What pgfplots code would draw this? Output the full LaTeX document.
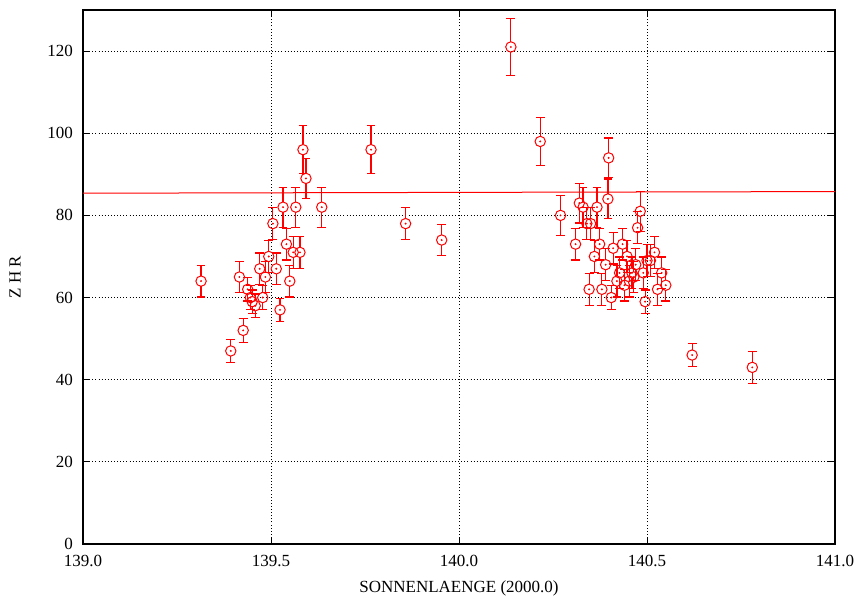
\documentclass[border=0pt]{standalone}
\usepackage{pgfplots}
\pgfplotsset{compat=1.18}
\usepackage{pgfplotstable}
\usetikzlibrary{arrows.meta}
\usepackage{fontspec}
\setmainfont{Liberation Serif}

% sonnenlaenge, ZHR, fehler
\pgfplotstableread{
x y e
139.314 64 4
139.393 47 3
139.416 65 4
139.426 52 3
139.438 62 3
139.445 60 3
139.450 59 3
139.458 58 3
139.470 67 4
139.478 60 3
139.485 65 4
139.494 70 4
139.505 78 4
139.514 67 4
139.524 57 3
139.532 82 5
139.541 73 4
139.550 64 4
139.559 71 4
139.566 82 5
139.577 71 4
139.585 96 6
139.593 89 5
139.635 82 5
139.766 96 6
139.858 78 4
139.954 74 4
140.138 121 7
140.216 98 6
140.270 80 5
140.310 73 4
140.320 83 5
140.330 82 5
140.340 78 4
140.346 62 4
140.350 78 4
140.360 70 4
140.367 82 5
140.374 73 4
140.380 62 4
140.390 68 4
140.396 84 5
140.398 94 5
140.405 60 3
140.410 72 4
140.420 64 4
140.427 66 4
140.435 73 4
140.440 63 4
140.447 70 4
140.453 64 4
140.460 66 4
140.465 65 4
140.470 68 4
140.475 77 4
140.482 81 5
140.490 66 4
140.495 59 3
140.500 69 4
140.509 69 4
140.520 71 4
140.528 62 4
140.539 66 4
140.550 63 4
140.620 46 3
140.780 43 4
}\zhrdata

% kreisradius in y-einheiten (2.6pt bei 267pt fuer 130)
\def\rk{1.27}

\begin{document}
\begin{tikzpicture}
\useasboundingbox (-41.5pt,-26pt) rectangle (385.5pt,272pt);
\begin{axis}[
    at={(0,0)}, anchor=south west,
    scale only axis, width=376pt, height=267pt,
    xmin=139, xmax=141, ymin=0, ymax=130,
    xtick={139,139.5,140,140.5,141},
    ytick={0,20,40,60,80,100,120},
    xticklabel style={/pgf/number format/fixed, /pgf/number format/fixed zerofill,
        /pgf/number format/precision=1, yshift=-2pt},
    yticklabel style={xshift=-1.5pt},
    /pgf/number format/assume math mode=true,
    /pgf/number format/1000 sep={},
    tick align=inside, major tick length=3.5pt,
    tick style={black, line width=0.5pt},
    axis line style={black, line width=0.6pt},
    grid=major,
    major grid style={black, line width=0.45pt, dash pattern=on 0.45pt off 1.1pt},
    font=\fontsize{8.5}{10}\selectfont,
    xlabel={SONNENLAENGE (2000.0)},
    ylabel={Z H R},
    xlabel style={at={(axis description cs:0.5,0)}, anchor=center, yshift=-22pt},
    ylabel style={at={(axis description cs:-0.0904,0.5)}, anchor=center},
]
\addplot[red, line width=0.5pt] coordinates {(139,85.4) (141,85.8)};
% fehlerbalken unten und oben, je mit querstrich am ende
\addplot[red, line width=0.6pt, {Bar[width=4.4pt]}-,
    quiver={u=0, v=\thisrow{e}-\rk}]
    table[x=x, y expr=\thisrow{y}-\thisrow{e}] {\zhrdata};
\addplot[red, line width=0.6pt, -{Bar[width=4.4pt]},
    quiver={u=0, v=\thisrow{e}-\rk}]
    table[x=x, y expr=\thisrow{y}+\rk] {\zhrdata};
\addplot[red, only marks, mark=o, mark size=2.6pt, line width=0.5pt]
    table[x=x, y=y] {\zhrdata};
\addplot[red, only marks, mark=*, mark size=0.25pt]
    table[x=x, y=y] {\zhrdata};
\end{axis}
\end{tikzpicture}
\end{document}
